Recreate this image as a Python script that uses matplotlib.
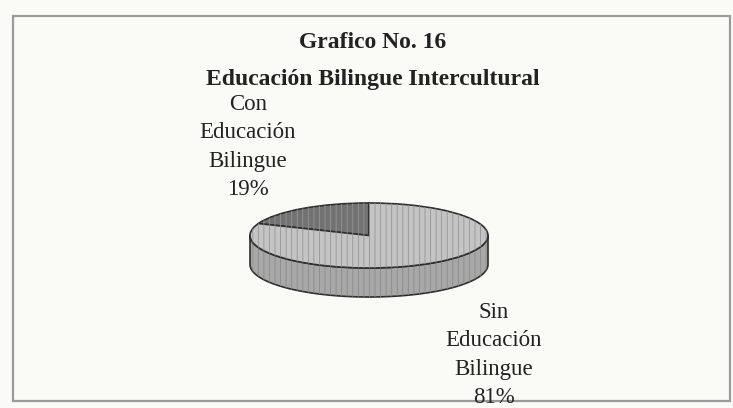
import numpy as np
import matplotlib
matplotlib.use("Agg")
import matplotlib.pyplot as plt
from matplotlib.patches import Polygon, Rectangle, Wedge

# data
categories = ["Con\nEducación\nBilingue", "Sin\nEducación\nBilingue"]
values = [19, 81]
colors = ["#727272", "#c4c4c4"]
side_colors = ["#5a5a5a", "#a8a8a8"]
title_lines = ["Grafico No. 16", "Educación Bilingue Intercultural"]

W, H = 733, 408
fig = plt.figure(figsize=(W / 100, H / 100), dpi=100)
fig.patch.set_facecolor("#fafaf6")
plt.rcParams["hatch.linewidth"] = 0.6

# overlay axes in pixel units for frame and text
bg = fig.add_axes([0, 0, 1, 1])
bg.set_xlim(0, W)
bg.set_ylim(H, 0)
bg.axis("off")
bg.add_patch(Rectangle((13, 16), 717, 385, fill=False, edgecolor="#9a9a9a", lw=1.6))

serif = ["Liberation Serif", "DejaVu Serif"]
bg.text(373, 43, title_lines[0], ha="center", va="center", fontsize=17,
        fontweight="bold", family=serif, color="#222222")
bg.text(373, 80, title_lines[1], ha="center", va="center", fontsize=17,
        fontweight="bold", family=serif, color="#222222")

# pie: top ellipse spans x 250..488, y 203..268 px, side depth 29 px
cx0, cx1 = 250, 488
ty0, ty1 = 203, 268
depth = 29 / ((ty1 - ty0) / 2)
ax = fig.add_axes([cx0 / W, 1 - (ty1 + 29) / H, (cx1 - cx0) / W, (ty1 + 29 - ty0) / H])
ax.axis("off")

# side walls (front half only)
total = sum(values)
start = 90.0
for v, sc in zip(values, side_colors):
    a0, a1 = start, start + 360.0 * v / total
    start = a1
    for off in (0, 360):
        lo, hi = max(a0, 180 + off), min(a1, 360 + off)
        if hi <= lo:
            continue
        t = np.radians(np.linspace(lo, hi, 120))
        xs = np.cos(t)
        ys = np.sin(t)
        pts = np.concatenate([np.column_stack([xs, ys]),
                              np.column_stack([xs[::-1], ys[::-1] - depth])])
        ax.add_patch(Polygon(pts, closed=True, facecolor=sc, edgecolor="#2e2e2e",
                             lw=1.2, clip_on=False))
        ax.add_patch(Polygon(pts, closed=True, facecolor="none", edgecolor="#8a8a8a",
                             lw=0, hatch="|||", clip_on=False))

wedges, _ = ax.pie(values, colors=colors, startangle=90, counterclock=True,
                   radius=1, wedgeprops=dict(edgecolor="#2e2e2e", linewidth=1.2))
for w in wedges:
    w.set_clip_on(False)
    hw = Wedge(w.center, w.r, w.theta1, w.theta2, facecolor="none",
               edgecolor="#959595", lw=0, hatch="|||")
    hw.set_clip_on(False)
    ax.add_patch(hw)
ax.set_aspect("auto")
ax.set_xlim(-1, 1)
ax.set_ylim(-1 - depth, 1)

# labels
label_pos = [(248, 147), (494, 355)]
for cat, v, (lx, ly) in zip(categories, values, label_pos):
    bg.text(lx, ly, f"{cat}\n{v}%", ha="center", va="center", fontsize=16.5,
            family=serif, color="#222222", linespacing=1.45)

fig.savefig("out.png", dpi=100, facecolor=fig.get_facecolor())
